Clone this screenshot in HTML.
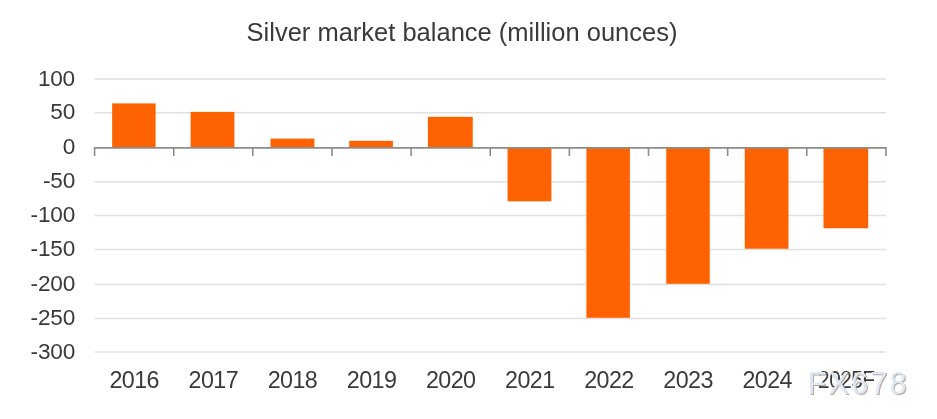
<!DOCTYPE html>
<html><head><meta charset="utf-8"><style>
html,body{margin:0;padding:0;background:#fff;width:937px;height:419px;overflow:hidden}
svg{position:absolute;left:0;top:0;will-change:transform}
text{font-family:"Liberation Sans",sans-serif;fill:#3a3a3a}
.ax{font-size:22.6px;letter-spacing:-0.2px}
.xl{font-size:23.3px;letter-spacing:-0.6px}
.title{font-size:25.5px}
.wm{font-size:31px;letter-spacing:2px}
</style></head><body>
<svg width="937" height="419" viewBox="0 0 937 419">
<text x="462" y="40.5" text-anchor="middle" class="title">Silver market balance (million ounces)</text>
<line x1="94.6" x2="885.9" y1="78.90" y2="78.90" stroke="#e0e0e0" stroke-width="1.5"/>
<text x="75" y="85.50" text-anchor="end" class="ax">100</text>
<line x1="94.6" x2="885.9" y1="112.65" y2="112.65" stroke="#e0e0e0" stroke-width="1.5"/>
<text x="75" y="119.25" text-anchor="end" class="ax">50</text>
<text x="75" y="153.80" text-anchor="end" class="ax">0</text>
<line x1="94.6" x2="885.9" y1="181.70" y2="181.70" stroke="#e0e0e0" stroke-width="1.5"/>
<text x="75" y="188.30" text-anchor="end" class="ax">-50</text>
<line x1="94.6" x2="885.9" y1="215.50" y2="215.50" stroke="#e0e0e0" stroke-width="1.5"/>
<text x="75" y="222.10" text-anchor="end" class="ax">-100</text>
<line x1="94.6" x2="885.9" y1="249.40" y2="249.40" stroke="#e0e0e0" stroke-width="1.5"/>
<text x="75" y="256.00" text-anchor="end" class="ax">-150</text>
<line x1="94.6" x2="885.9" y1="284.50" y2="284.50" stroke="#e0e0e0" stroke-width="1.5"/>
<text x="75" y="291.10" text-anchor="end" class="ax">-200</text>
<line x1="94.6" x2="885.9" y1="318.40" y2="318.40" stroke="#e0e0e0" stroke-width="1.5"/>
<text x="75" y="325.00" text-anchor="end" class="ax">-250</text>
<line x1="94.6" x2="885.9" y1="352.10" y2="352.10" stroke="#e0e0e0" stroke-width="1.5"/>
<text x="75" y="358.70" text-anchor="end" class="ax">-300</text>
<rect x="112.16" y="103.40" width="43.44" height="44.40" fill="#ff6200"/>
<text x="134.16" y="387.8" text-anchor="middle" class="xl">2016</text>
<rect x="190.65" y="111.88" width="43.75" height="35.92" fill="#ff6200"/>
<text x="213.29" y="387.8" text-anchor="middle" class="xl">2017</text>
<rect x="270.50" y="138.60" width="43.90" height="9.20" fill="#ff6200"/>
<text x="292.42" y="387.8" text-anchor="middle" class="xl">2018</text>
<rect x="349.20" y="140.83" width="43.70" height="6.97" fill="#ff6200"/>
<text x="371.55" y="387.8" text-anchor="middle" class="xl">2019</text>
<rect x="427.90" y="116.83" width="44.85" height="30.97" fill="#ff6200"/>
<text x="450.68" y="387.8" text-anchor="middle" class="xl">2020</text>
<rect x="507.55" y="147.80" width="43.85" height="53.50" fill="#ff6200"/>
<text x="529.81" y="387.8" text-anchor="middle" class="xl">2021</text>
<rect x="586.40" y="147.80" width="43.50" height="170.00" fill="#ff6200"/>
<text x="608.95" y="387.8" text-anchor="middle" class="xl">2022</text>
<rect x="666.25" y="147.80" width="43.51" height="136.00" fill="#ff6200"/>
<text x="688.07" y="387.8" text-anchor="middle" class="xl">2023</text>
<rect x="744.76" y="147.80" width="43.74" height="100.94" fill="#ff6200"/>
<text x="767.21" y="387.8" text-anchor="middle" class="xl">2024</text>
<rect x="823.50" y="147.80" width="44.70" height="80.46" fill="#ff6200"/>
<text x="846.33" y="387.8" text-anchor="middle" class="xl" textLength="56.5" lengthAdjust="spacingAndGlyphs">2025F</text>
<line x1="93.8" x2="886.6999999999999" y1="147.8" y2="147.8" stroke="#8c8c8c" stroke-width="1.8"/>
<line x1="94.60" x2="94.60" y1="147.8" y2="156.0" stroke="#8c8c8c" stroke-width="1.6"/>
<line x1="173.73" x2="173.73" y1="147.8" y2="156.0" stroke="#8c8c8c" stroke-width="1.6"/>
<line x1="252.86" x2="252.86" y1="147.8" y2="156.0" stroke="#8c8c8c" stroke-width="1.6"/>
<line x1="331.99" x2="331.99" y1="147.8" y2="156.0" stroke="#8c8c8c" stroke-width="1.6"/>
<line x1="411.12" x2="411.12" y1="147.8" y2="156.0" stroke="#8c8c8c" stroke-width="1.6"/>
<line x1="490.25" x2="490.25" y1="147.8" y2="156.0" stroke="#8c8c8c" stroke-width="1.6"/>
<line x1="569.38" x2="569.38" y1="147.8" y2="156.0" stroke="#8c8c8c" stroke-width="1.6"/>
<line x1="648.51" x2="648.51" y1="147.8" y2="156.0" stroke="#8c8c8c" stroke-width="1.6"/>
<line x1="727.64" x2="727.64" y1="147.8" y2="156.0" stroke="#8c8c8c" stroke-width="1.6"/>
<line x1="806.77" x2="806.77" y1="147.8" y2="156.0" stroke="#8c8c8c" stroke-width="1.6"/>
<line x1="885.90" x2="885.90" y1="147.8" y2="156.0" stroke="#8c8c8c" stroke-width="1.6"/>
<text x="808.5" y="395" class="wm" style="fill:#bfa38f">FX678</text>
<text x="807.5" y="394" class="wm" style="fill:#dce9f8">FX678</text>
</svg>
</body></html>
